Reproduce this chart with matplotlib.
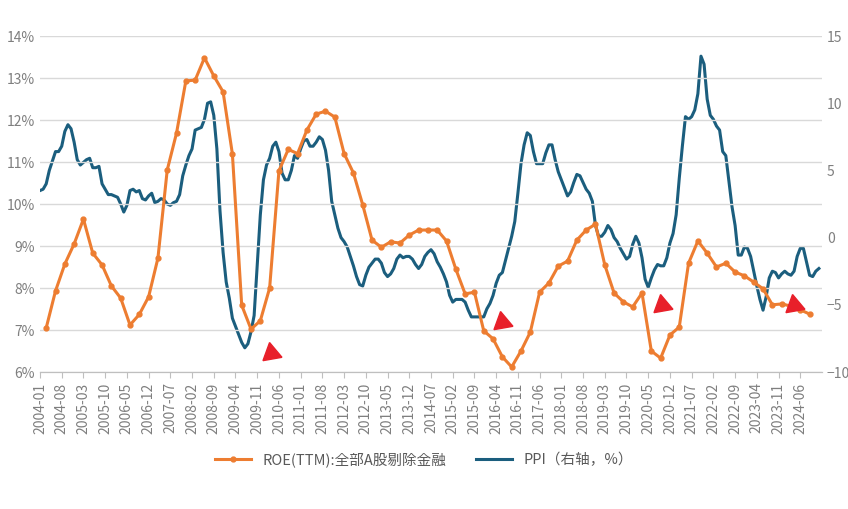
import numpy as np
import matplotlib.pyplot as plt
from matplotlib.lines import Line2D
from matplotlib import font_manager as fm

cjk = None
for f in fm.findSystemFonts():
    if 'NotoSansCJK' in f.replace(' ', '') or 'NotoSansSC' in f:
        cjk = f
        break
if cjk:
    fm.fontManager.addfont(cjk)
    cjk_name = fm.FontProperties(fname=cjk).get_name()
else:
    cjk_name = 'Noto Sans CJK SC'
plt.rcParams['font.family'] = [cjk_name, 'DejaVu Sans']

# PPI yoy, monthly from 2004-01
ppi = [3.5,3.6,4.0,5.0,5.7,6.4,6.4,6.8,7.9,8.4,8.1,7.1,
       5.8,5.4,5.6,5.8,5.9,5.2,5.2,5.3,4.0,3.6,3.2,3.2,
       3.1,3.0,2.5,1.9,2.4,3.5,3.6,3.4,3.5,2.9,2.8,3.1,
       3.3,2.6,2.7,2.9,2.8,2.5,2.4,2.6,2.7,3.2,4.6,5.4,
       6.1,6.6,8.0,8.1,8.2,8.8,10.0,10.1,9.1,6.6,2.0,-1.1,
       -3.3,-4.5,-6.0,-6.6,-7.2,-7.8,-8.2,-7.9,-7.0,-5.8,-2.1,1.7,
       4.3,5.4,5.9,6.8,7.1,6.4,4.8,4.3,4.3,5.0,6.1,5.9,
       6.6,7.2,7.3,6.8,6.8,7.1,7.5,7.3,6.5,5.0,2.7,1.7,
       0.7,0.0,-0.3,-0.7,-1.4,-2.1,-2.9,-3.5,-3.6,-2.8,-2.2,-1.9,
       -1.6,-1.6,-1.9,-2.6,-2.9,-2.7,-2.3,-1.6,-1.3,-1.5,-1.4,-1.4,
       -1.6,-2.0,-2.3,-2.0,-1.4,-1.1,-0.9,-1.2,-1.8,-2.2,-2.7,-3.3,
       -4.3,-4.8,-4.6,-4.6,-4.6,-4.8,-5.4,-5.9,-5.9,-5.9,-5.9,-5.9,
       -5.3,-4.9,-4.3,-3.4,-2.8,-2.6,-1.7,-0.8,0.1,1.2,3.3,5.5,
       6.9,7.8,7.6,6.4,5.5,5.5,5.5,6.3,6.9,6.9,5.8,4.9,
       4.3,3.7,3.1,3.4,4.1,4.7,4.6,4.1,3.6,3.3,2.7,0.9,
       0.1,0.1,0.4,0.9,0.6,0.0,-0.3,-0.8,-1.2,-1.6,-1.4,-0.5,
       0.1,-0.4,-1.5,-3.1,-3.7,-3.0,-2.4,-2.0,-2.1,-2.1,-1.5,-0.4,
       0.3,1.7,4.4,6.8,9.0,8.8,9.0,9.5,10.7,13.5,12.9,10.3,
       9.1,8.8,8.3,8.0,6.4,6.1,4.2,2.3,0.9,-1.3,-1.3,-0.7,
       -0.8,-1.4,-2.5,-3.6,-4.6,-5.4,-4.4,-3.0,-2.5,-2.6,-3.0,-2.7,
       -2.5,-2.7,-2.8,-2.5,-1.4,-0.8,-0.8,-1.8,-2.8,-2.9,-2.5,-2.3]

# ROE TTM (%), quarterly from 2004-03
roe = [7.05,7.93,8.57,9.05,9.64,8.83,8.55,8.05,7.76,7.12,7.37,7.79,8.71,10.81,
       11.69,12.93,12.95,13.48,13.05,12.67,11.19,7.59,7.02,7.22,8.0,10.79,11.3,
       11.2,11.76,12.14,12.21,12.07,11.2,10.74,9.98,9.14,8.97,9.1,9.07,9.26,9.38,
       9.38,9.38,9.12,8.45,7.86,7.9,6.98,6.79,6.36,6.12,6.5,6.95,7.9,8.12,8.52,
       8.64,9.14,9.38,9.52,8.55,7.88,7.67,7.55,7.88,6.5,6.33,6.88,7.07,8.59,9.12,
       8.83,8.5,8.59,8.38,8.29,8.14,7.98,7.6,7.62,7.57,7.48,7.38]

# red arrow markers: month index, left-axis value
arrow_x = [74.5, 149, 200.6, 243]
arrow_y = [6.45, 7.19, 7.6, 7.6]

ppi_x = np.arange(len(ppi))
roe_x = np.arange(len(roe)) * 3 + 2
tick_pos = np.arange(0, 246, 7)
tick_lab = ['%d-%02d' % (2004 + p // 12, p % 12 + 1) for p in tick_pos]

orange = '#ED7D31'
blue = '#1B5E7E'
gray = '#7F7F7F'

fig = plt.figure(figsize=(8.48, 5.09), dpi=100)
ax = fig.add_axes([40/848, 1-372/509, 782/848, 336/509])
ax2 = ax.twinx()

ax.set_zorder(ax2.get_zorder() + 1)
ax.patch.set_visible(False)

ax2.plot(ppi_x, ppi, color=blue, lw=2.2)
ax.plot(roe_x, roe, color=orange, lw=2.2, marker='o', ms=3.5)
ax.plot(arrow_x, arrow_y, ls='none', marker=(3, 0, -110), ms=16, color='#E8202A')

ax.set_ylim(6, 14)
ax.set_yticks(range(6, 15))
ax.set_yticklabels(['%d%%' % v for v in range(6, 15)])
ax2.set_ylim(-10, 15)
ax2.set_yticks(range(-10, 16, 5))
ax.set_xlim(0, 252)
ax.set_xticks(tick_pos)
ax.set_xticklabels(tick_lab, rotation=90)
ax.grid(axis='y', color='#D9D9D9', lw=1)

for a in (ax, ax2):
    for s in ['top', 'right', 'left']:
        a.spines[s].set_visible(False)
    a.spines['bottom'].set_color('#BFBFBF')
    a.tick_params(axis='y', length=0, labelcolor=gray, labelsize=10)
ax.tick_params(axis='x', color='#BFBFBF', labelcolor=gray, labelsize=10, length=4)

handles = [Line2D([], [], color=orange, lw=2.2, marker='o', ms=3.5),
           Line2D([], [], color=blue, lw=2.2)]
fig.legend(handles, ['ROE(TTM):全部A股剔除金融', 'PPI（右轴，%）'], loc='center',
           bbox_to_anchor=(0.5, 1-460/509), ncol=2, frameon=False,
           prop=fm.FontProperties(family=cjk_name, size=10.5),
           labelcolor='#595959', handlelength=2.5, columnspacing=2)

fig.savefig('out.png', dpi=100)
